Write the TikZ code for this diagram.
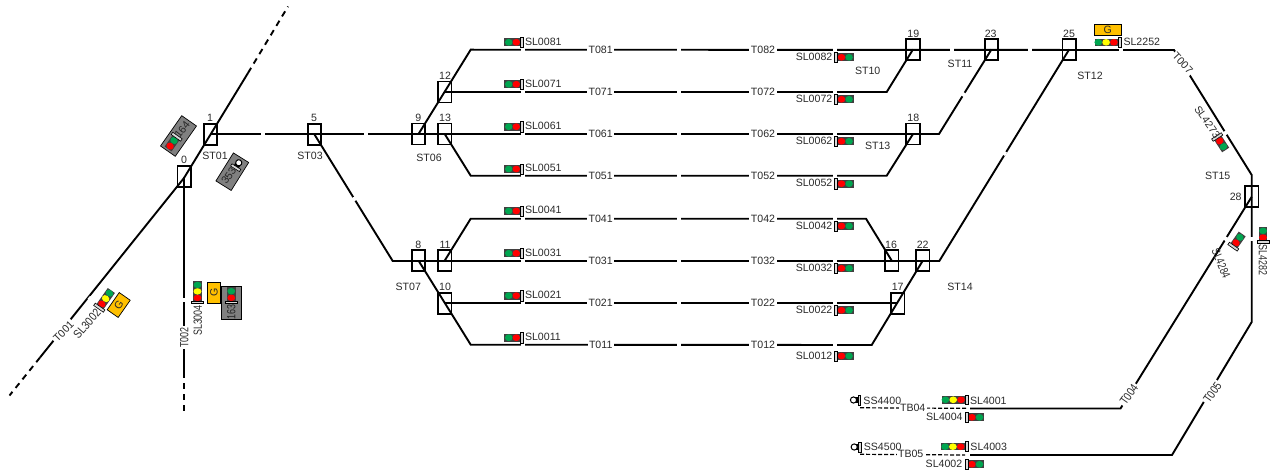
\documentclass[tikz,border=0pt]{standalone}
\usepackage{fontspec}
\usepackage{graphicx}
\setmainfont{Liberation Sans}
\definecolor{sgreen}{HTML}{00A650}
\definecolor{syellow}{HTML}{FFFF00}
\definecolor{sred}{HTML}{FF0000}
\definecolor{sorange}{HTML}{FFC000}
\definecolor{sgrey}{HTML}{808080}
\definecolor{txt}{HTML}{2A2A2A}
\tikzset{
  track/.style={line width=1.9pt,black},
  dashtrack/.style={line width=1.9pt,black,dash pattern=on 6pt off 5pt},
  thindash/.style={line width=1.2pt,black,dash pattern=on 4pt off 2pt},
  swbox/.style={draw=black,line width=1.7pt,minimum width=13.6pt,minimum height=21pt,inner sep=0pt,fill=none},
  lbl/.style={text=txt,font=\fontsize{10.6pt}{11pt}\selectfont,inner sep=0pt},
  tlbl/.style={lbl,fill=white,inner xsep=1.5pt,inner ysep=1.5pt},
  gapmark/.style={fill=white,draw=none,minimum width=4pt,minimum height=5pt,inner sep=0pt},
  gbox/.style={draw=black,line width=.7pt,fill=sorange,inner sep=0pt,text=txt,font=\fontsize{10.6pt}{11pt}\selectfont},
  greybox/.style={draw=black,line width=.7pt,fill=sgrey,inner sep=0pt},
}
\newcommand\sq[2]{\scalebox{#1}[1.12]{#2}}
% signal: x,y of the bar; canvas angle from bar to lamps; housing length; lamp list; lamp spacing
\newcommand\sgn[6]{%
  \begin{scope}[shift={(#1,#2)},rotate=#3]
    \pgfmathsetmacro\rxx{#6/2-0.05}
    \pgfmathsetmacro\ryy{12.8/\rxx}
    \fill[black!75] (1.5,{-\ryy-0.4}) rectangle (#4,{\ryy+0.4});
    \foreach \lampc [count=\lampi] in {#5}{
      \fill[\lampc] ({#6-2.1+#6*(\lampi-1)},0) circle[x radius=\rxx,y radius=\ryy];
    }
    \draw[black,line width=.6pt,fill=white!85!black] (-1.4,{-\ryy*1.5}) rectangle (1.4,{\ryy*1.5});
  \end{scope}}
% shunting signal
\newcommand\shn[3]{%
  \begin{scope}[shift={(#1,#2)},rotate=#3]
    \fill[black] (1,-2.8) rectangle (6,2.8);
    \draw[black,line width=1pt,fill=white] (5.8,0) circle (3.1);
    \draw[black,line width=.6pt,fill=white!85!black] (-1.3,-5.2) rectangle (1.3,5.2);
  \end{scope}}
\newcommand\gapat[3]{\node[gapmark,rotate=#3] at (#1,#2) {};}
\begin{document}
\begin{tikzpicture}[x=1pt,y=-1pt]
\useasboundingbox (0,0) rectangle (1274,476);

% waypoints
\coordinate (dl) at (9.5,395.5);
\coordinate (dls) at (40,357.5);
\coordinate (dk) at (184,178);
\coordinate (dus) at (248,73);
\coordinate (du) at (288,6.5);
\coordinate (vs) at (184.3,372);
\coordinate (ve) at (184.3,414);
\coordinate (m1) at (210.5,134);
\coordinate (a1) at (392.7,261);
\coordinate (c81) at (470.7,49.7);
\coordinate (c51) at (470.7,175.7);
\coordinate (c41) at (470.7,218.7);
\coordinate (c11) at (470.7,344.7);
\coordinate (e72) at (886.7,92);
\coordinate (e62) at (939,134);
\coordinate (e52) at (886.7,175.7);
\coordinate (e42) at (866,218.7);
\coordinate (e32) at (939.3,261);
\coordinate (e12) at (871.7,345);
\coordinate (r1) at (1174,50);
\coordinate (r2) at (1251.7,175);
\coordinate (r3) at (1251.7,322);
\coordinate (r4) at (1172,455);
\coordinate (r5) at (1120.5,408.5);
\coordinate (l4) at (970,408.5);
\coordinate (l5) at (970,455);
\coordinate (d4a) at (860,407.8);
\coordinate (d4b) at (967,408.3);
\coordinate (d5a) at (860,454.3);
\coordinate (d5b) at (965,455);

% switch boxes
\node[swbox] (b0) at (184.3,176.5) {};
\node[swbox] (b1) at (210.5,134.5) {};
\node[swbox] (b5) at (314.5,134.5) {};
\node[swbox] (b9) at (418.5,134) {};
\node[swbox] (b12) at (444.7,92) {};
\node[swbox] (b13) at (444.7,134) {};
\node[swbox] (b8) at (418.5,260.6) {};
\node[swbox] (b11) at (444.7,260.6) {};
\node[swbox] (b10) at (444.7,303.3) {};
\node[swbox] (b19) at (913,49.4) {};
\node[swbox] (b23) at (991.5,49.4) {};
\node[swbox] (b25) at (1069.2,49.4) {};
\node[swbox] (b18) at (913,134) {};
\node[swbox] (b16) at (891.7,260.6) {};
\node[swbox] (b22) at (922.8,260.6) {};
\node[swbox] (b17) at (897.8,303.3) {};
\node[swbox] (b28) at (1251.7,196.8) {};

% tracks
\draw[track] (dls) -- (dk) -- (dus);
\draw[dashtrack] (dls) -- (dl);
\draw[dashtrack] (dus) -- (du);
\draw[track] (b0.center) -- (vs);
\draw[dashtrack] (vs) -- (ve);
\draw[track] (m1) -- (e62) -- (b23.center);
\draw[track] (b5.center) -- (a1) -- (e32) -- (b25.center);
\draw[track] (b9.center) -- (c81) -- (r1) -- (r2) -- (r3) -- (r4) -- (l5);
\draw[track] (b12.center) -- (e72) -- (b19.center);
\draw[track] (b13.center) -- (c51) -- (e52) -- (b18.center);
\draw[track] (b11.center) -- (c41) -- (e42) -- (b16.center);
\draw[track] (b8.center) -- (c11) -- (e12) -- (b22.center);
\draw[track] (b10.center) -- (b17.center);
\draw[track] (b28.center) -- (r5) -- (l4);
\draw[thindash] (d4a) -- (d4b);
\draw[thindash] (d5a) -- (d5b);

% gaps
\gapat{90.7}{299}{51}
\gapat{184.3}{300}{90}
\gapat{263}{134}{0}
\gapat{366}{134}{0}
\gapat{355}{198.5}{-58}
\gapat{951.7}{49.7}{0}
\gapat{1029.5}{49.7}{0}
\gapat{964.3}{95}{58}
\gapat{1004}{153}{58}
\gapat{1121}{50}{0}
\gapat{1225}{133.3}{-58}
\gapat{1225}{238.3}{58}
\gapat{1251.7}{239.3}{90}

% the eight central rows
\foreach \n/\ty/\ly/\ry in {8/49.7/42.3/57.3,7/92/84.3/99.3,6/133.9/126.7/141.3,5/175.7/169/183.7,4/218.7/211/226,3/261/253.3/268.3,2/303.3/295.7/310.3,1/344.8/337.7/356}{
  \gapat{523.3}{\ty}{0}
  \gapat{679}{\ty}{0}
  \gapat{835}{\ty}{0}
  \node[tlbl] (t\n1) at (600.7,\ty) {T0\n1};
  \node[tlbl] (t\n2) at (763,\ty) {T0\n2};
  \sgn{521.8}{\ly}{180}{18}{sred,sgreen}{7.6}
  \sgn{836}{\ry}{0}{18}{sred,sgreen}{7.6}
  \node[lbl,anchor=west] (sla\n) at (524.8,\ly-0.7) {SL00\n1};
  \node[lbl,anchor=east] (slb\n) at (832.5,\ry-0.5) {SL00\n2};
}

% box numbers
\foreach \t/\x/\y in {0/184/160,1/210/118,5/314/118,9/418.3/117.7,12/445/75.7,13/445/117.7,8/418.3/245,11/445/245,10/445/287,19/913.3/33.7,23/990.7/33.7,25/1069/33.7,18/913.3/117.7,16/891/244.7,22/922.7/244.7,17/897.7/287,28/1235.7/196.7}{
  \node[lbl] (num\t) at (\x,\y) {\t};
}
% station labels
\foreach \t/\x/\y in {ST01/215/156,ST03/310/156,ST06/429/157.7,ST07/408.3/286.7,ST10/867.7/70.7,ST11/960/64.3,ST12/1090/75.7,ST13/877.7/145.7,ST14/960/286.7,ST15/1217.7/175.7}{
  \node[lbl] (name\t) at (\x,\y) {\t};
}

% track labels
\node[tlbl,rotate=45] (t001) at (63.5,331.5) {T001};
\node[tlbl,rotate=90] (t002) at (184.3,337.7) {\sq{.84}{T002}};
\node[tlbl,rotate=-47] (t007) at (1182.7,63.3) {T007};
\node[tlbl,rotate=55] (t004) at (1129,394.5) {\sq{.92}{T004}};
\node[tlbl,rotate=55] (t005) at (1212.5,392.5) {\sq{.92}{T005}};
\node[tlbl] (tb04) at (912.7,407.7) {TB04};
\node[tlbl] (tb05) at (910.7,454.3) {TB05};

% left signals
\node[gbox,minimum width=21pt,minimum height=13.4pt,rotate=55] (g3002) at (118.7,305) {G};
\sgn{99.3}{307.7}{55}{21}{sred,syellow,sgreen}{6.6}
\node[lbl,rotate=49] (sl3002) at (87,323.8) {\sq{.95}{SL3002}};

\node[gbox,minimum width=21pt,minimum height=13.4pt,rotate=90] (g3004) at (214,292.8) {G};
\sgn{197.5}{302.3}{90}{21}{sred,syellow,sgreen}{6.5}
\node[lbl,rotate=90] (sl3004) at (197.7,320.5) {\sq{.84}{SL3004}};

\node[greybox,minimum width=33pt,minimum height=20pt,rotate=90] (g163) at (231.3,303.3) {};
\sgn{231.3}{302.3}{90}{15}{sred,sgreen}{6.6}
\node[lbl,rotate=90,text=black!85] (n163) at (231.3,312.3) {\sq{.84}{163}};

\node[greybox,minimum width=37pt,minimum height=18pt,rotate=55] (g164) at (178.5,136) {};
\sgn{176.7}{136.7}{235}{15}{sgreen,sred}{6.8}
\node[lbl,rotate=52,text=black!85] (n164) at (182.3,129.5) {164};

\node[greybox,minimum width=33pt,minimum height=18pt,rotate=58] (g353) at (232.3,171.7) {};
\shn{235.7}{167.7}{58}
\node[lbl,rotate=55,text=black!85] (n353) at (228.7,175.5) {353};

% right signals
\node[gbox,minimum width=26.7pt,minimum height=11.7pt] (g2252) at (1107.7,29.8) {G};
\sgn{1119.6}{42.3}{180}{25}{sred,syellow,sgreen}{7.8}
\node[lbl,anchor=west] (sl2252) at (1123.3,41.7) {SL2252};
\sgn{1217.2}{137}{-57}{15.5}{sred,sgreen}{6.8}
\node[lbl,rotate=-55] (sl4273) at (1207.3,122) {SL4273};
\sgn{1233.3}{246.7}{55}{15.5}{sred,sgreen}{6.8}
\node[lbl,rotate=-67] (sl4284) at (1221,263.5) {\sq{.84}{SL4284}};
\sgn{1263}{242}{90}{15}{sred,sgreen}{6.6}
\node[lbl,rotate=-90] (sl4282) at (1263,260.3) {\sq{.84}{SL4282}};

% bottom
\shn{859.3}{400}{180}
\node[lbl] (ss4400) at (882.3,400.7) {SS4400};
\sgn{966.7}{399.8}{180}{25}{sred,syellow,sgreen}{7.8}
\node[lbl] (sl4001) at (988.3,400.7) {SL4001};
\sgn{966.4}{417.3}{0}{18}{sred,sgreen}{7.6}
\node[lbl] (sl4004) at (944.3,416.7) {SL4004};
\shn{860}{447}{180}
\node[lbl] (ss4500) at (882.7,447) {SS4500};
\sgn{966.4}{446.7}{180}{25}{sred,syellow,sgreen}{7.8}
\node[lbl] (sl4003) at (988.7,447) {SL4003};
\sgn{966.4}{464.3}{0}{18}{sred,sgreen}{7.6}
\node[lbl] (sl4002) at (944,463.7) {SL4002};
\end{tikzpicture}
\end{document}
